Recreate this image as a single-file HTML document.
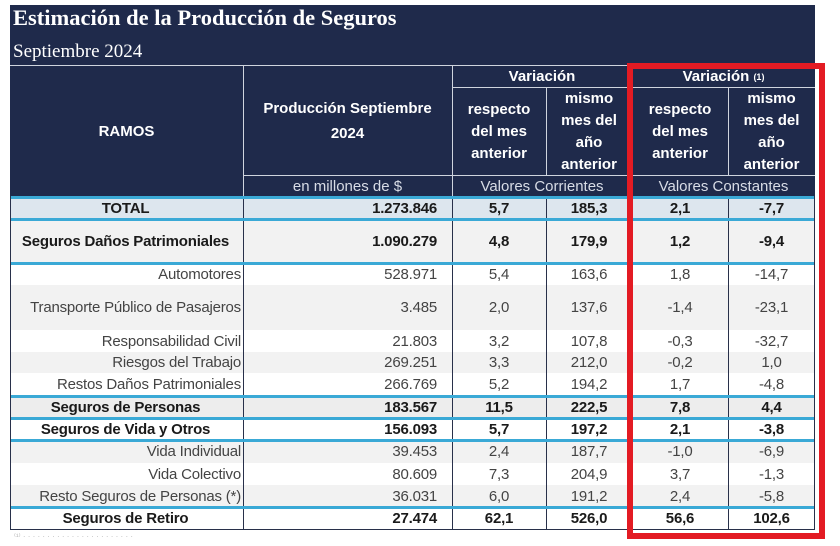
<!DOCTYPE html>
<html><head><meta charset="utf-8"><style>
body{margin:0;width:840px;height:546px;background:#fff;position:relative;overflow:hidden;font-family:"Liberation Sans",sans-serif}
.a{position:absolute;box-sizing:border-box}
.hd{color:#fff;font-weight:bold;font-size:15px;text-align:center;display:flex;align-items:center;justify-content:center;line-height:22px}
.c{display:flex;align-items:center;font-size:15px;color:#444;letter-spacing:-0.2px;white-space:nowrap}
.b{font-weight:bold;color:#1a1a1a}
.vl{position:absolute;width:1px;background:#28304a}
.cy{position:absolute;left:10px;width:805px;height:3px;background:#3aa9d6}
</style></head><body>
<div class="a" style="left:10px;top:5px;width:805px;height:192px;background:#1f2a4b"></div>
<div class="a" style="left:13px;top:5px;color:#fff;font-family:'Liberation Serif',serif;font-weight:bold;font-size:22.5px">Estimación de la Producción de Seguros</div>
<div class="a" style="left:13px;top:41px;color:#fff;font-family:'Liberation Serif',serif;font-size:19px">Septiembre 2024</div>
<div class="a" style="left:10px;top:65px;width:805px;height:1px;background:#cfd4de"></div>
<div class="a" style="left:243px;top:65px;width:1px;height:132px;background:#cfd4de"></div>
<div class="a" style="left:452px;top:65px;width:1px;height:132px;background:#cfd4de"></div>
<div class="a" style="left:632px;top:65px;width:1px;height:132px;background:#cfd4de"></div>
<div class="a" style="left:546px;top:87px;width:1px;height:88px;background:#cfd4de"></div>
<div class="a" style="left:728px;top:87px;width:1px;height:88px;background:#cfd4de"></div>
<div class="a" style="left:452px;top:87px;width:363px;height:1px;background:#cfd4de"></div>
<div class="a" style="left:243px;top:175px;width:572px;height:1px;background:#cfd4de"></div>
<div class="a hd" style="left:10px;top:66px;width:233px;height:131px">RAMOS</div>
<div class="a hd" style="left:243px;top:66px;width:209px;height:109px;line-height:25px">Producción Septiembre<br>2024</div>
<div class="a hd" style="left:452px;top:66px;width:180px;height:21px">Variación</div>
<div class="a hd" style="left:632px;top:66px;width:183px;height:21px">Variación&nbsp;<sup style="font-size:9px">(1)</sup></div>
<div class="a hd" style="left:452px;top:88px;width:94px;height:87px">respecto<br>del mes<br>anterior</div>
<div class="a hd" style="left:546px;top:88px;width:86px;height:87px">mismo<br>mes del<br>año<br>anterior</div>
<div class="a hd" style="left:632px;top:88px;width:96px;height:87px">respecto<br>del mes<br>anterior</div>
<div class="a hd" style="left:728px;top:88px;width:87px;height:87px">mismo<br>mes del<br>año<br>anterior</div>
<div class="a hd" style="left:243px;top:176px;width:209px;height:21px;font-weight:normal;color:#d8dce6">en millones de $</div>
<div class="a hd" style="left:452px;top:176px;width:180px;height:21px;font-weight:normal;color:#d8dce6">Valores Corrientes</div>
<div class="a hd" style="left:632px;top:176px;width:183px;height:21px;font-weight:normal;color:#d8dce6">Valores Constantes</div>

<div id="rows"></div>
<script>
var R=[
[197,219,'#dde6ee',1,'TOTAL','1.273.846','5,7','185,3','2,1','-7,7'],
[219,263,'#f2f2f2',1,'Seguros Daños Patrimoniales','1.090.279','4,8','179,9','1,2','-9,4'],
[263,285,'#fff',0,'Automotores','528.971','5,4','163,6','1,8','-14,7'],
[285,330,'#f2f2f2',0,'Transporte Público de Pasajeros','3.485','2,0','137,6','-1,4','-23,1'],
[330,352,'#fff',0,'Responsabilidad Civil','21.803','3,2','107,8','-0,3','-32,7'],
[352,373,'#f2f2f2',0,'Riesgos del Trabajo','269.251','3,3','212,0','-0,2','1,0'],
[373,396,'#fff',0,'Restos Daños Patrimoniales','266.769','5,2','194,2','1,7','-4,8'],
[396,418,'#ededed',1,'Seguros de Personas','183.567','11,5','222,5','7,8','4,4'],
[418,440,'#fff',1,'Seguros de Vida y Otros','156.093','5,7','197,2','2,1','-3,8'],
[440,463,'#f2f2f2',0,'Vida Individual','39.453','2,4','187,7','-1,0','-6,9'],
[463,485,'#fff',0,'Vida Colectivo','80.609','7,3','204,9','3,7','-1,3'],
[485,507,'#f2f2f2',0,'Resto Seguros de Personas (*)','36.031','6,0','191,2','2,4','-5,8'],
[507,530,'#fff',1,'Seguros de Retiro','27.474','62,1','526,0','56,6','102,6']];
var X=[10,243,452,546,632,728,815],h='';
R.forEach(function(r){
 var t=r[0],H=r[1]-r[0],cl=r[3]?'c b':'c';
 h+='<div class="a" style="left:10px;top:'+t+'px;width:805px;height:'+H+'px;background:'+r[2]+'"></div>';
 h+='<div class="a '+cl+'" style="left:10px;top:'+t+'px;width:233px;height:'+H+'px;padding-right:2px;justify-content:'+(r[3]?'center':'flex-end')+'">'+r[4]+'</div>';
 h+='<div class="a '+cl+'" style="left:243px;top:'+t+'px;width:209px;height:'+H+'px;padding-right:15px;justify-content:flex-end">'+r[5]+'</div>';
 for(var i=2;i<6;i++)h+='<div class="a '+cl+'" style="left:'+X[i]+'px;top:'+t+'px;width:'+(X[i+1]-X[i])+'px;height:'+H+'px;justify-content:center">'+r[i+4]+'</div>';
});
[1,2,3,4,5].forEach(function(i){h+='<div class="vl" style="left:'+X[i]+'px;top:197px;height:333px"></div>';});
[196,218,262,395,417,439,506].forEach(function(y){h+='<div class="cy" style="top:'+y+'px"></div>';});
h+='<div class="a" style="left:10px;top:196px;width:1px;height:334px;background:#28304a"></div>';
h+='<div class="a" style="left:814px;top:196px;width:1px;height:334px;background:#28304a"></div>';
h+='<div class="a" style="left:10px;top:529px;width:805px;height:1px;background:#28304a"></div>';
document.getElementById('rows').innerHTML=h;
</script>
<div class="a" style="left:14px;top:532px;font-size:8px;color:#bbb">⁽¹⁾ ·  ·  ·  ·  ·  ·  ·  ·  ·  ·  ·  ·  ·  ·  ·  ·  ·  ·  ·  ·  ·  ·  ·</div>
<div class="a" style="left:627px;top:63px;width:198px;height:476px;border:6px solid #e31b23"></div>
</body></html>
